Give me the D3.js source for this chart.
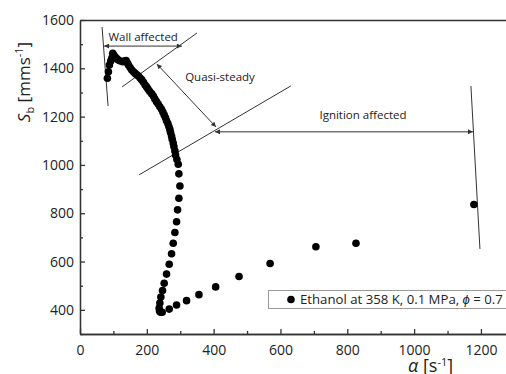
<!DOCTYPE html>
<html>
<head>
<meta charset="utf-8">
<script src="https://cdn.jsdelivr.net/npm/d3@7"></script>
<style>
  body { margin: 0; background: #fff; }
  svg { display: block; font-family: "Open Sans", sans-serif; }
  .axis path, .axis line { stroke: #333; stroke-width: 1.3; }
  .axis text { fill: #222; font-size: 14px; font-family: "Open Sans", sans-serif; }
  .note { stroke: #333; stroke-width: 1; fill: none; }
  .noteText { font-size: 11.5px; fill: #222; }
</style>
</head>
<body>
<div id="chart"></div>
<script>
// stretch rate alpha [1/s] and flame speed Sb [mm/s]
var alpha = [82, 85, 88, 92, 95, 98, 101, 105, 110, 115, 121, 128, 133, 138, 142, 145, 150, 155, 160, 165,
  170, 175, 180, 185, 190, 195, 200, 204, 209, 215, 220, 224, 229, 234, 239, 244, 248, 252, 256, 259,
  263, 266, 269, 271, 274, 276, 279, 281, 284, 286, 290, 294, 296, 299, 296, 292, 289, 284, 279, 274,
  267, 259, 252, 247, 242, 239, 237, 238, 241, 246, 267, 289, 319, 356, 406, 476, 569, 706, 826, 1179];
var sb = [1359, 1386, 1414, 1430, 1441, 1462, 1455, 1448, 1440, 1434, 1430, 1427, 1430, 1432, 1422, 1414, 1403, 1393, 1386, 1379,
  1373, 1368, 1360, 1352, 1342, 1331, 1322, 1313, 1304, 1294, 1284, 1273, 1262, 1252, 1241, 1230, 1219, 1207, 1195, 1183,
  1171, 1159, 1147, 1134, 1120, 1106, 1091, 1076, 1058, 1041, 1022, 1003, 963, 913, 862, 814, 765, 720, 676, 632,
  589, 548, 510, 480, 453, 428, 407, 395, 390, 390, 403, 420, 438, 463, 495, 538, 592, 661, 676, 836];

var xTicks = [0, 200, 400, 600, 800, 1000, 1200];
var yTicks = [400, 600, 800, 1000, 1200, 1400, 1600];

// regime boundaries and arrows, in data units [[a0, s0], [a1, s1]]
var boundLines = [
  [[66, 1571], [84, 1244]],
  [[126, 1323], [350, 1546]],
  [[177, 959], [631, 1327]],
  [[1170, 1327], [1197, 652]]
];
var arrows = [
  [[72, 1492], [305, 1492]],
  [[230, 1418], [407, 1157]],
  [[404, 1137], [1176, 1137]]
];
var noteLabels = ["Wall affected", "Quasi-steady", "Ignition affected"];
var noteAt = [[189, 1515], [419, 1347], [847, 1190]];

var W = 506, H = 374;
var margin = {top: 20, right: 0, bottom: 40, left: 80};

var x = d3.scaleLinear().domain([0, 1275]).range([margin.left, W - margin.right]);
var y = d3.scaleLinear().domain([300, 1600]).range([H - margin.bottom, margin.top]);

var svg = d3.select("#chart").append("svg")
  .attr("width", W)
  .attr("height", H);

var defs = svg.append("defs");
defs.append("marker")
  .attr("id", "head")
  .attr("viewBox", "0 0 10 10")
  .attr("refX", 10).attr("refY", 5)
  .attr("markerWidth", 7).attr("markerHeight", 5)
  .attr("markerUnits", "userSpaceOnUse")
  .attr("orient", "auto-start-reverse")
  .append("path")
  .attr("d", "M0,0L10,5L0,10z")
  .attr("fill", "#333");

// axes: minor ticks every 100, labels every 200, ticks pointing in
svg.append("g").attr("class", "axis")
  .attr("transform", "translate(0," + y(300) + ")")
  .call(d3.axisBottom(x).tickValues(d3.range(100, 1300, 200)).tickSizeInner(-3).tickSizeOuter(0).tickFormat(""));
svg.append("g").attr("class", "axis")
  .attr("transform", "translate(0," + y(300) + ")")
  .call(d3.axisBottom(x).tickValues(xTicks).tickSizeInner(-5).tickSizeOuter(0).tickPadding(11).tickFormat(d3.format("d")));

svg.append("g").attr("class", "axis")
  .attr("transform", "translate(" + x(0) + ",0)")
  .call(d3.axisLeft(y).tickValues(d3.range(300, 1600, 200)).tickSizeInner(-3).tickSizeOuter(0).tickFormat(""));
svg.append("g").attr("class", "axis")
  .attr("transform", "translate(" + x(0) + ",0)")
  .call(d3.axisLeft(y).tickValues(yTicks).tickSizeInner(-5).tickSizeOuter(0).tickPadding(6).tickFormat(d3.format("d")));

svg.append("g").attr("class", "axis")
  .attr("transform", "translate(0," + y(1600) + ")")
  .call(d3.axisTop(x).tickValues([]).tickSizeOuter(0));

// axis titles
var yTitle = svg.append("text")
  .attr("transform", "translate(30,82) rotate(-90)")
  .attr("text-anchor", "middle")
  .style("font-size", "17px")
  .attr("fill", "#222");
yTitle.append("tspan").style("font-style", "italic").text("S");
yTitle.append("tspan").attr("dy", 4).style("font-size", "11px").text("b");
yTitle.append("tspan").attr("dy", -4).text(" [mms");
yTitle.append("tspan").attr("dy", -7).style("font-size", "11px").text("-1");
yTitle.append("tspan").attr("dy", 7).text("]");

var xTitle = svg.append("text")
  .attr("x", 408).attr("y", 372)
  .style("font-size", "18px")
  .attr("fill", "#222");
xTitle.append("tspan").style("font-style", "italic").text("α");
xTitle.append("tspan").text(" [s");
xTitle.append("tspan").attr("dy", -6).style("font-size", "11px").text("-1");
xTitle.append("tspan").attr("dy", 6).text("]");

// annotations
var lineGen = d3.line().x(function(d){ return x(d[0]); }).y(function(d){ return y(d[1]); });
svg.selectAll(".bound").data(boundLines).enter().append("path")
  .attr("class", "note bound")
  .attr("d", lineGen);
svg.selectAll(".arrow").data(arrows).enter().append("path")
  .attr("class", "note arrow")
  .attr("marker-start", "url(#head)")
  .attr("marker-end", "url(#head)")
  .attr("d", lineGen);
svg.selectAll(".noteText").data(noteLabels).enter().append("text")
  .attr("class", "noteText")
  .attr("text-anchor", "middle")
  .attr("x", function(d, i){ return x(noteAt[i][0]); })
  .attr("y", function(d, i){ return y(noteAt[i][1]); })
  .text(function(d){ return d; });

// data points
svg.selectAll(".pt").data(alpha).enter().append("circle")
  .attr("class", "pt")
  .attr("cx", function(d){ return x(d); })
  .attr("cy", function(d, i){ return y(sb[i]); })
  .attr("r", 3.8)
  .attr("fill", "#000");

// legend
var leg = svg.append("g").attr("transform", "translate(268,290)");
leg.append("rect")
  .attr("x", 0.5).attr("y", 0.5)
  .attr("width", 250).attr("height", 18)
  .attr("fill", "#fff")
  .attr("stroke", "#999");
leg.append("circle").attr("cx", 23).attr("cy", 9.5).attr("r", 3.8).attr("fill", "#000");
var legText = leg.append("text")
  .attr("x", 32).attr("y", 14)
  .style("font-size", "13.2px")
  .attr("fill", "#222");
legText.append("tspan").text("Ethanol at 358 K, 0.1 MPa, ");
legText.append("tspan").style("font-style", "italic").text("ϕ");
legText.append("tspan").text(" = 0.7");
</script>
</body>
</html>
